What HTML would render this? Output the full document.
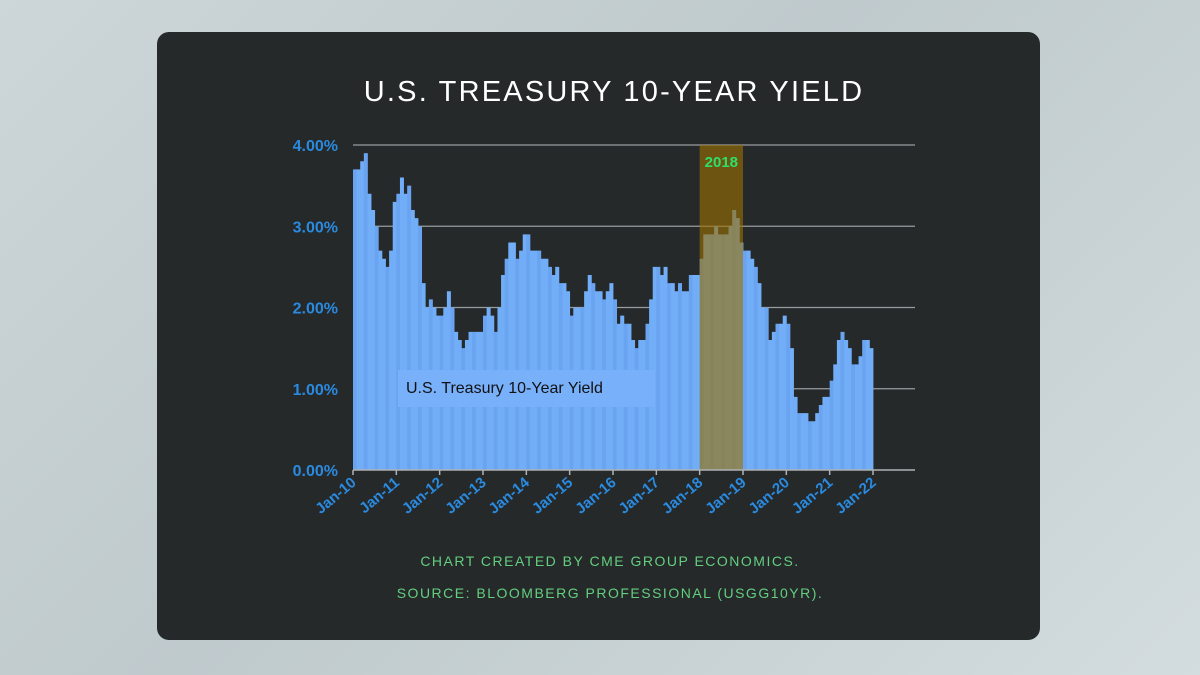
<!DOCTYPE html>
<html><head><meta charset="utf-8"><style>
html,body{margin:0;width:1200px;height:675px;overflow:hidden;background:linear-gradient(135deg,#cdd6d8 0%,#bfcacd 45%,#d3dcde 100%);font-family:"Liberation Sans",sans-serif;}
svg{display:block}
</style></head><body>
<svg width="1200" height="675" xmlns="http://www.w3.org/2000/svg">
<rect x="157" y="32" width="883" height="608" rx="12" fill="#25292a"/>
<text x="614" y="101" text-anchor="middle" fill="#ffffff" font-size="29" letter-spacing="2.2" font-family="Liberation Sans, sans-serif">U.S. TREASURY 10-YEAR YIELD</text>
<g id="grid"></g>
<g id="bars"></g>
<g id="overlay"></g>
<g id="axes"></g>
<text x="610" y="566" text-anchor="middle" fill="#63cf7f" font-size="14" letter-spacing="1.5">CHART CREATED BY CME GROUP ECONOMICS.</text>
<text x="610" y="598" text-anchor="middle" fill="#63cf7f" font-size="14" letter-spacing="1.5">SOURCE: BLOOMBERG PROFESSIONAL (USGG10YR).</text>
</svg>
<script>
const yieldValues=[3.7,3.7,3.8,3.9,3.4,3.2,3.0,2.7,2.6,2.5,2.7,3.3,
3.4,3.6,3.4,3.5,3.2,3.1,3.0,2.3,2.0,2.1,2.0,1.9,
1.9,2.0,2.2,2.0,1.7,1.6,1.5,1.6,1.7,1.7,1.7,1.7,
1.9,2.0,1.9,1.7,2.0,2.4,2.6,2.8,2.8,2.6,2.7,2.9,
2.9,2.7,2.7,2.7,2.6,2.6,2.5,2.4,2.5,2.3,2.3,2.2,
1.9,2.0,2.0,2.0,2.2,2.4,2.3,2.2,2.2,2.1,2.2,2.3,
2.1,1.8,1.9,1.8,1.8,1.6,1.5,1.6,1.6,1.8,2.1,2.5,
2.5,2.4,2.5,2.3,2.3,2.2,2.3,2.2,2.2,2.4,2.4,2.4,
2.6,2.9,2.9,2.9,3.0,2.9,2.9,2.9,3.0,3.2,3.1,2.8,
2.7,2.7,2.6,2.5,2.3,2.0,2.0,1.6,1.7,1.8,1.8,1.9,
1.8,1.5,0.9,0.7,0.7,0.7,0.6,0.6,0.7,0.8,0.9,0.9,
1.1,1.3,1.6,1.7,1.6,1.5,1.3,1.3,1.4,1.6,1.6,1.5];
const yTicks=[0,1,2,3,4];
const yTickLabels=["0.00%","1.00%","2.00%","3.00%","4.00%"];
const xTickLabels=["Jan-10","Jan-11","Jan-12","Jan-13","Jan-14","Jan-15","Jan-16","Jan-17","Jan-18","Jan-19","Jan-20","Jan-21","Jan-22"];
const highlightYear=[8,9];
const highlightLabel="2018";
const NS="http://www.w3.org/2000/svg";
const X0=353,X1=873,Y0=470,Y4=145;
const xm=i=>X0+(X1-X0)*i/144;
const y=v=>Y0+(Y4-Y0)*v/4;
function mk(t,a,p){const e=document.createElementNS(NS,t);for(const k in a)e.setAttribute(k,a[k]);p.appendChild(e);return e;}
const grid=document.getElementById('grid');
yTicks.forEach((t,i)=>{
 if(t>0){const l=mk('line',{x1:X0,x2:915,y1:y(t),y2:y(t),stroke:'#9a9d9f','stroke-width':1.2},grid);
 
 }
 const tx=mk('text',{x:338,y:y(t)+6,'text-anchor':'end',fill:'#2a8ae0','font-size':16,'font-weight':'bold'},grid);
 tx.textContent=yTickLabels[i];
 
 
});
const bars=document.getElementById('bars');
yieldValues.forEach((v,i)=>{
 const r=mk('rect',{x:xm(i),y:y(v),width:(X1-X0)/144+0.4,height:Y0-y(v),fill:i%3==0?'#6aa3ef':'#72adf8'},bars);
 
 
});
const ov=document.getElementById('overlay');
const hb=mk('rect',{x:xm(highlightYear[0]*12),y:Y4,width:xm(highlightYear[1]*12)-xm(highlightYear[0]*12),height:Y0-Y4,fill:'#9a7000',opacity:0.62},ov);


const hl=mk('text',{x:(xm(96)+xm(108))/2,y:167,'text-anchor':'middle',fill:'#2ee06a','font-size':15,'font-weight':'bold'},ov);
hl.textContent=highlightLabel;


const lb=mk('rect',{x:398,y:370,width:257,height:37,fill:'#78b0fa'},ov);


const lt=mk('text',{x:406,y:393,fill:'#111','font-size':16},ov);
lt.textContent='U.S. Treasury 10-Year Yield';


const ax=document.getElementById('axes');
const al=mk('line',{x1:X0,x2:915,y1:Y0,y2:Y0,stroke:'#b0b3b5','stroke-width':1.5},ax);


xTickLabels.forEach((s,i)=>{
 const x=xm(i*12);
 const tk=mk('line',{x1:x,x2:x,y1:Y0,y2:Y0+5,stroke:'#b0b3b5','stroke-width':1.5},ax);
 
 
 const t=mk('text',{x:x+4,y:Y0+14,'text-anchor':'end',fill:'#2a8ae0','font-size':15,'font-weight':'bold',transform:`rotate(-40 ${x+4} ${Y0+14})`},ax);
 t.textContent=s;
 
 
});
</script>
</body></html>
